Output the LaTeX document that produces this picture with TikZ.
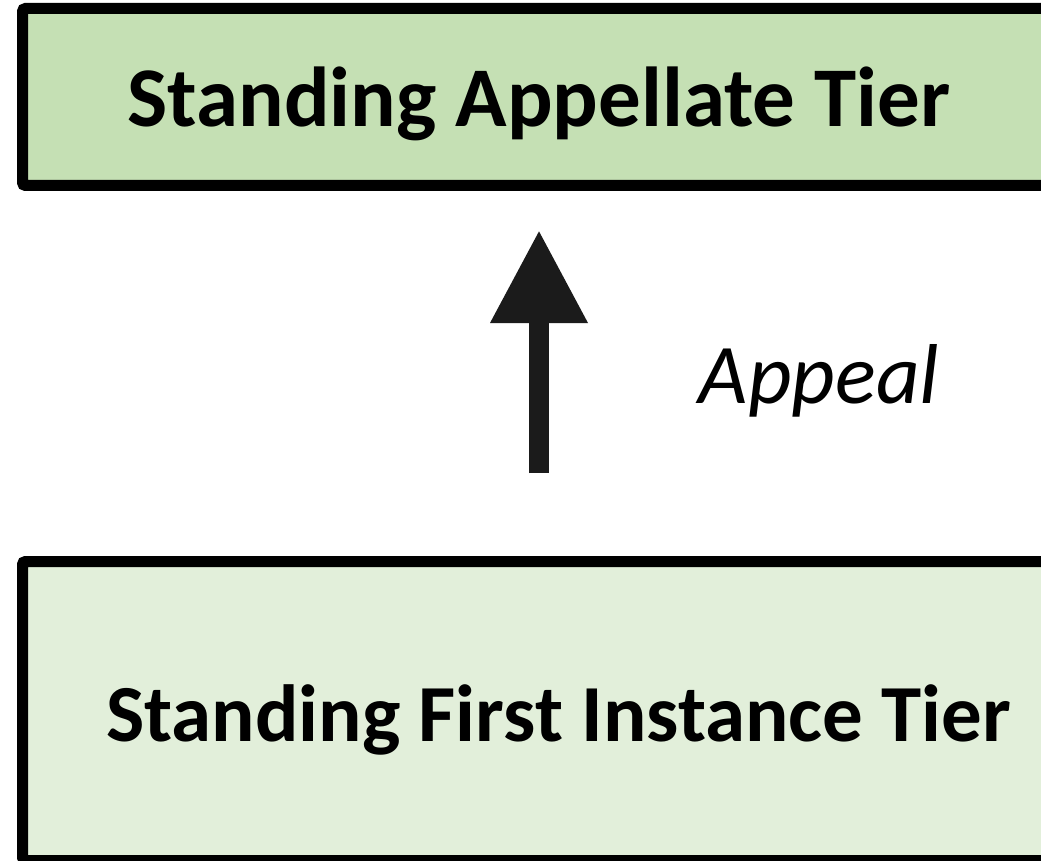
\documentclass[tikz,border=0pt]{standalone}
\usepackage{fontspec}
\setmainfont{Carlito}
\usepackage{xcolor}
\usetikzlibrary{arrows.meta}

\definecolor{tierdark}{HTML}{C5E0B4}
\definecolor{tierlight}{HTML}{E2EFDA}
\definecolor{arrowgray}{HTML}{1B1B1B}

\begin{document}
\begin{tikzpicture}[x=1pt,y=-1pt,
    tier/.style={draw=black, line width=11pt, rounded corners=3pt,
      inner sep=0pt, outer sep=0pt, text height=60pt, text depth=0pt},
    appeal/.style={draw=arrowgray, line width=20pt,
      -{Triangle[width=92pt,length=93pt]}}]
    % Fix the page to the size of the picture
    \path[use as bounding box, clip] (0,0) rectangle (1041,861);

    % Draw the two tiers
    \node[tier, fill=tierdark, minimum width=1033pt, minimum height=177pt,
      font=\bfseries\fontsize{85}{100}\selectfont]
      (appellate) at (539,97) {Standing Appellate Tier};
    \node[tier, fill=tierlight, minimum width=1072pt, minimum height=299pt,
      font=\bfseries\fontsize{81}{96}\selectfont]
      (first) at (558.5,711) {Standing First Instance Tier};

    % Draw the appeal arrow
    \coordinate (axis) at (539,0);
    \draw[appeal, shorten <=88.5pt, shorten >=44.5pt]
      (axis |- first.north) -- (axis |- appellate.south);
    \node[font=\itshape\fontsize{85}{100}\selectfont] (label) at (819,381) {Appeal};
\end{tikzpicture}
\end{document}
